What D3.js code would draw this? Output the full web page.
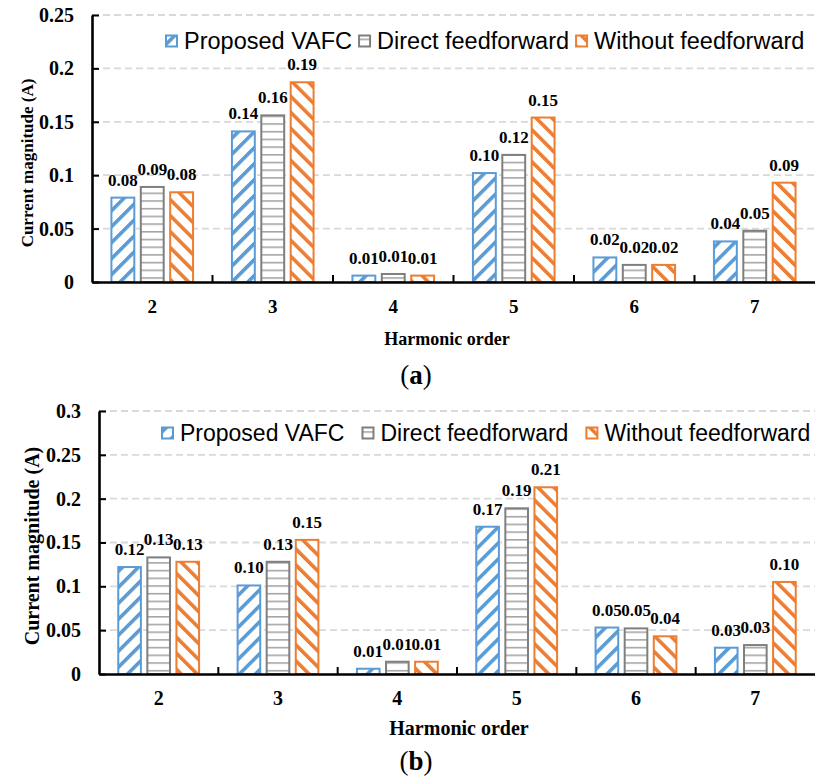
<!DOCTYPE html>
<html>
<head>
<meta charset="utf-8">
<script src="https://cdn.jsdelivr.net/npm/d3@7"></script>
<style>
  body { margin: 0; background: #fff; }
  svg text { font-family: "Liberation Serif", "Times New Roman", serif; font-weight: bold; fill: #000; }
  svg .legend text { font-family: "Liberation Sans", Arial, sans-serif; font-weight: normal; }
</style>
</head>
<body>
<svg id="chart" width="815" height="782"></svg>
<script>
const categories = ["2", "3", "4", "5", "6", "7"];
const seriesNames = ["Proposed VAFC", "Direct feedforward", "Without feedforward"];

// panel (a)
const vafcA    = [0.079, 0.141, 0.006, 0.102, 0.023, 0.038];
const directA  = [0.089, 0.156, 0.0075, 0.119, 0.016, 0.048];
const withoutA = [0.084, 0.187, 0.006, 0.154, 0.016, 0.093];
const yTicksA = [0, 0.05, 0.1, 0.15, 0.2, 0.25];
const yTickLabelsA = ["0", "0.05", "0.1", "0.15", "0.2", "0.25"];

// panel (b)
const vafcB    = [0.122, 0.101, 0.006, 0.168, 0.053, 0.030];
const directB  = [0.133, 0.128, 0.014, 0.189, 0.052, 0.033];
const withoutB = [0.128, 0.153, 0.014, 0.213, 0.043, 0.105];
const yTicksB = [0, 0.05, 0.1, 0.15, 0.2, 0.25, 0.3];
const yTickLabelsB = ["0", "0.05", "0.1", "0.15", "0.2", "0.25", "0.3"];

const blue = "#5b9bd5", gray = "#7f7f7f", grayLine = "#a5a5a5", orange = "#ed7d31";

const svg = d3.select("#chart");
const defs = svg.append("defs");

// hatch patterns
function diagPattern(id, color, angle) {
  const p = defs.append("pattern")
    .attr("id", id)
    .attr("patternUnits", "userSpaceOnUse")
    .attr("width", 11.3).attr("height", 11.3)
    .attr("patternTransform", "rotate(" + angle + ")");
  p.append("rect").attr("width", 11.3).attr("height", 11.3).attr("fill", "#fff");
  p.append("rect").attr("width", 3.6).attr("height", 11.3).attr("fill", color);
}
diagPattern("hatchBlue", blue, 45);
diagPattern("hatchOrange", orange, -45);
const hp = defs.append("pattern")
  .attr("id", "linesGray")
  .attr("patternUnits", "userSpaceOnUse")
  .attr("width", 10).attr("height", 7.7);
hp.append("rect").attr("width", 10).attr("height", 7.7).attr("fill", "#fff");
hp.append("rect").attr("width", 10).attr("height", 1.6).attr("fill", grayLine);

const fills = ["url(#hatchBlue)", "url(#linesGray)", "url(#hatchOrange)"];
const strokes = [blue, gray, orange];

function drawPanel(o) {
  const g = svg.append("g");
  const x0 = d3.scaleBand().domain(categories).range([o.left, o.right]);
  const half = x0.bandwidth() * 0.347;
  const x1 = d3.scaleBand().domain(seriesNames).range([-half, half]).paddingInner(0.153);
  const y = d3.scaleLinear().domain([0, o.yMax]).range([o.bottom, o.top]);

  // gridlines
  g.selectAll(".grid").data(o.ticks.slice(1)).join("line")
    .attr("x1", o.left).attr("x2", o.right)
    .attr("y1", d => y(d)).attr("y2", d => y(d))
    .attr("stroke", "#d9d9d9").attr("stroke-width", 1.8)
    .attr("stroke-dasharray", "7,4");

  // bars
  const rows = [];
  o.values.forEach((arr, s) => arr.forEach((v, i) => rows.push({ cat: categories[i], s: s, v: v })));
  g.selectAll(".bar").data(rows).join("rect")
    .attr("x", d => x0(d.cat) + x0.bandwidth() / 2 + x1(seriesNames[d.s]) + 1)
    .attr("y", d => y(d.v))
    .attr("width", x1.bandwidth() - 2)
    .attr("height", d => y(0) - y(d.v))
    .attr("fill", d => fills[d.s])
    .attr("stroke", d => strokes[d.s])
    .attr("stroke-width", 2);

  // value labels
  g.selectAll(".lbl").data(rows).join("text")
    .attr("x", d => x0(d.cat) + x0.bandwidth() / 2 + x1(seriesNames[d.s]) + x1.bandwidth() / 2)
    .attr("y", d => y(d.v) - 12)
    .attr("text-anchor", "middle")
    .attr("font-size", "17px")
    .text(d => d3.format(".2f")(d.v));

  // y axis
  const yAxis = g.append("g")
    .attr("transform", "translate(" + o.left + ",0)")
    .call(d3.axisLeft(y).tickValues(o.ticks)
      .tickFormat((d, i) => o.tickLabels[i])
      .tickSize(-7).tickSizeOuter(0).tickPadding(18));
  yAxis.select(".domain").attr("stroke", "#000").attr("stroke-width", 2.6);
  yAxis.selectAll(".tick line").attr("stroke", "#000").attr("stroke-width", 2);
  yAxis.selectAll(".tick text").attr("font-size", "20px")
    .style("font-family", "'Liberation Serif', serif").style("font-weight", "bold");

  // x axis
  const xAxis = g.append("g")
    .attr("transform", "translate(0," + o.bottom + ")")
    .call(d3.axisBottom(x0).tickSize(0).tickPadding(o.xPad));
  xAxis.select(".domain").attr("stroke", "#000").attr("stroke-width", 2.6);
  xAxis.selectAll(".tick text").attr("font-size", o.xFont)
    .style("font-family", "'Liberation Serif', serif").style("font-weight", "bold");
  // tick marks between categories
  g.selectAll(".xtick").data(categories.slice(1)).join("line")
    .attr("x1", d => x0(d)).attr("x2", d => x0(d))
    .attr("y1", o.bottom).attr("y2", o.bottom - 7)
    .attr("stroke", "#000").attr("stroke-width", 2);

  // axis titles
  g.append("text")
    .attr("transform", "translate(" + o.yLabelX + "," + o.yLabelY + ") rotate(-90)")
    .attr("text-anchor", "middle")
    .attr("font-size", o.yLabelFont)
    .text("Current magnitude (A)");
  g.append("text")
    .attr("x", o.xLabelX).attr("y", o.xLabelY)
    .attr("text-anchor", "middle")
    .attr("font-size", o.xLabelFont)
    .text("Harmonic order");

  // panel tag
  const tag = g.append("text")
    .attr("x", o.tagX).attr("y", o.tagY)
    .attr("text-anchor", "middle")
    .attr("font-size", "27px");
  tag.append("tspan").style("font-weight", "normal").text("(");
  tag.append("tspan").text(o.tag);
  tag.append("tspan").style("font-weight", "normal").text(")");

  // legend
  const lg = g.append("g").attr("class", "legend");
  let lx = o.legendX;
  seriesNames.forEach((name, s) => {
    lg.append("rect")
      .attr("x", lx).attr("y", o.legendY - 5.5)
      .attr("width", 11).attr("height", 11)
      .attr("fill", fills[s]).attr("stroke", strokes[s]).attr("stroke-width", 2);
    const t = lg.append("text")
      .attr("x", lx + 18).attr("y", o.legendY + 8)
      .attr("font-size", o.legendFont)
      .text(name);
    lx += 18 + t.node().getComputedTextLength() + o.legendGap;
  });
}

drawPanel({
  values: [vafcA, directA, withoutA], ticks: yTicksA, tickLabels: yTickLabelsA, yMax: 0.25,
  left: 92, right: 815, top: 15, bottom: 282,
  xPad: 18, xFont: "19px",
  yLabelX: 33, yLabelY: 163, yLabelFont: "17px",
  xLabelX: 447, xLabelY: 345, xLabelFont: "18px",
  tag: "a", tagX: 416, tagY: 384,
  legendX: 166, legendY: 41, legendFont: "23.5px", legendGap: 7
});

drawPanel({
  values: [vafcB, directB, withoutB], ticks: yTicksB, tickLabels: yTickLabelsB, yMax: 0.3,
  left: 99, right: 815, top: 411, bottom: 674,
  xPad: 17, xFont: "20px",
  yLabelX: 39, yLabelY: 546, yLabelFont: "20px",
  xLabelX: 459, xLabelY: 735, xLabelFont: "20px",
  tag: "b", tagX: 416, tagY: 770,
  legendX: 162, legendY: 433, legendFont: "23px", legendGap: 18
});
</script>
</body>
</html>
